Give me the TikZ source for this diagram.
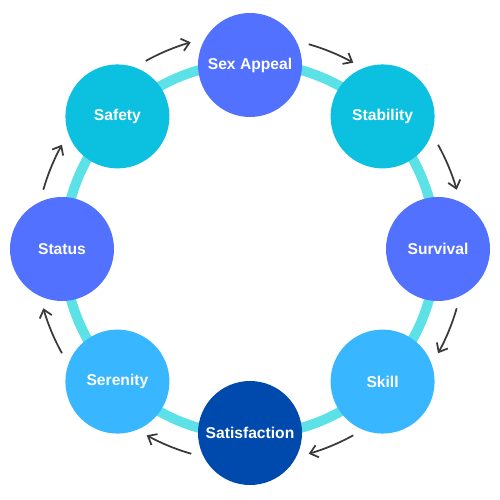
\documentclass[tikz,border=0pt]{standalone}
\usepackage{fontspec}
\setmainfont{Liberation Sans}
\usepackage{tikz}
\usetikzlibrary{arrows.meta}

\definecolor{violetblue}{HTML}{5271FF}
\definecolor{tealblue}{HTML}{0CC0DF}
\definecolor{skyblue}{HTML}{38B6FF}
\definecolor{navyblue}{HTML}{004AAD}
\definecolor{ringcyan}{HTML}{5CE1E6}
\definecolor{arrowgray}{HTML}{3A3A3A}

\begin{document}
\begin{tikzpicture}[
    font=\bfseries\fontsize{8.9}{11}\selectfont,
    stage/.style={circle, minimum size=2.08cm, inner sep=0pt, text=white},
    ring/.style={draw=ringcyan, line width=5.6pt},
    cyc/.style={-{Straight Barb[length=1.5mm, width=2.5mm]}, draw=arrowgray,
                line width=1pt},
]

\useasboundingbox (-5, -5.02) rectangle (5, 4.98);
\coordinate (ctr) at (0, 0);

% --- Ring ---
\draw[ring] (ctr) circle[radius=3.72];

% --- Stages ---
\node[stage, fill=violetblue] (appeal)  at (90:3.68)  {Sex Appeal};
\node[stage, fill=tealblue]   (stab)    at (45:3.75)  {Stability};
\node[stage, fill=violetblue] (surv)    at (0:3.76)   {Survival};
\node[stage, fill=skyblue]    (skill)   at (-45:3.75) {Skill};
\node[stage, fill=navyblue]   (satis)   at (-90:3.68) {Satisfaction};
\node[stage, fill=skyblue]    (seren)   at (-135:3.75) {Serenity};
\node[stage, fill=violetblue] (status)  at (180:3.76) {Status};
\node[stage, fill=tealblue]   (safety)  at (135:3.75) {Safety};

% --- Cycle arrows (clockwise) ---
\draw[cyc] ([shift={(119:4.3)}]ctr) arc[start angle=119, end angle=106, radius=4.3];
\draw[cyc] ([shift={(74:4.26)}]ctr) arc[start angle=74, end angle=61, radius=4.26];
\draw[cyc] ([shift={(29:4.3)}]ctr) arc[start angle=29, end angle=16, radius=4.3];
\draw[cyc] ([shift={(-16:4.3)}]ctr) arc[start angle=-16, end angle=-29, radius=4.3];
\draw[cyc] ([shift={(-61:4.26)}]ctr) arc[start angle=-61, end angle=-74, radius=4.26];
\draw[cyc] ([shift={(-106:4.26)}]ctr) arc[start angle=-106, end angle=-119, radius=4.26];
\draw[cyc] ([shift={(-151:4.3)}]ctr) arc[start angle=-151, end angle=-164, radius=4.3];
\draw[cyc] ([shift={(164:4.3)}]ctr) arc[start angle=164, end angle=151, radius=4.3];

\end{tikzpicture}
\end{document}
